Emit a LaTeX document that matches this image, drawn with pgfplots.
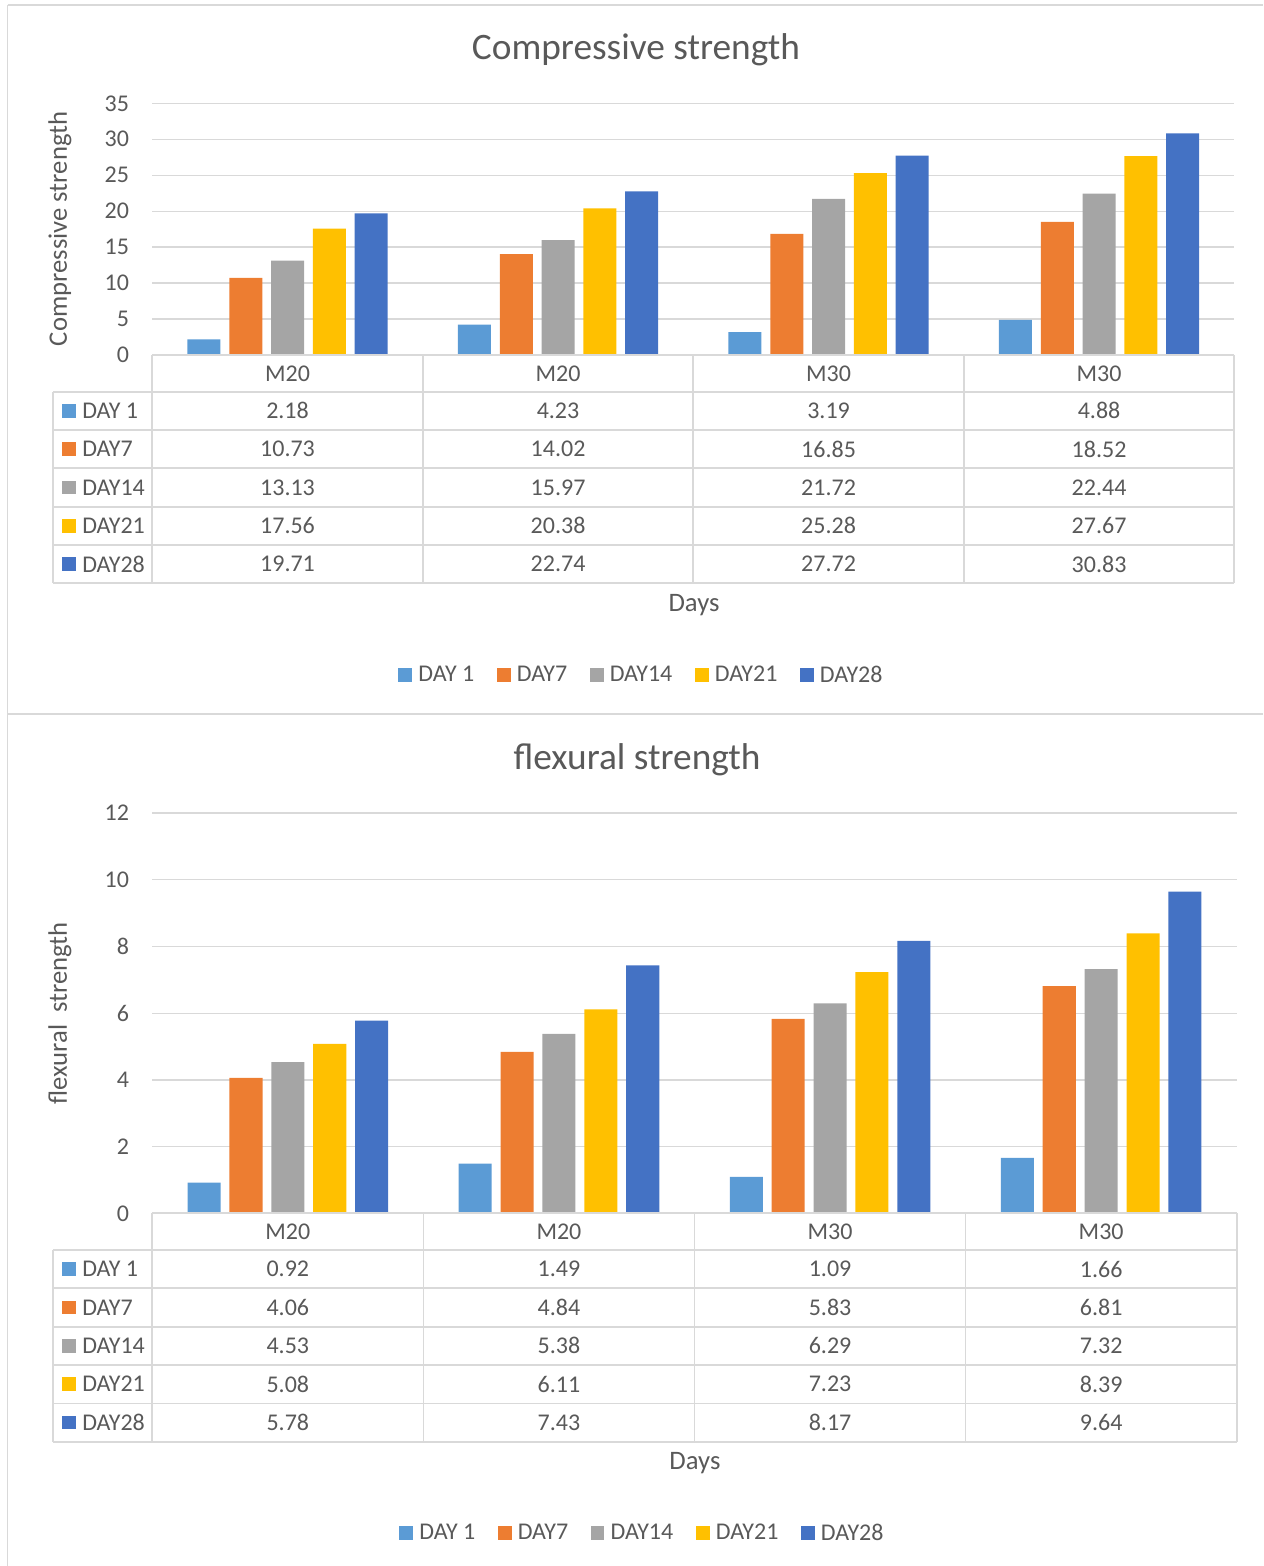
\documentclass[border=0pt]{standalone}
\usepackage{pgfplots}
\usepackage{pgfplotstable}
\pgfplotsset{compat=1.18}
\usepackage{fontspec}
\setmainfont{Carlito}
\definecolor{cA}{HTML}{5B9BD5}
\definecolor{cB}{HTML}{ED7D31}
\definecolor{cC}{HTML}{A5A5A5}
\definecolor{cD}{HTML}{FFC000}
\definecolor{cE}{HTML}{4472C4}
\definecolor{txt}{HTML}{595959}
\definecolor{gridc}{HTML}{D9D9D9}

\pgfplotstableread{
x d1 d7 d14 d21 d28
0 2.18 10.73 13.13 17.56 19.71
1 4.23 14.02 15.97 20.38 22.74
2 3.19 16.85 21.72 25.28 27.72
3 4.88 18.52 22.44 27.67 30.83
}\comp

\pgfplotstableread{
x d1 d7 d14 d21 d28
0 0.92 4.06 4.53 5.08 5.78
1 1.49 4.84 5.38 6.11 7.43
2 1.09 5.83 6.29 7.23 8.17
3 1.66 6.81 7.32 8.39 9.64
}\flex

\pgfplotsset{
  bchart/.style={
    scale only axis, xmin=-0.5, xmax=3.5, ymin=0,
    xtick={0,1,2,3}, xticklabels={M20,M20,M30,M30},
    major tick length=0pt, axis line style={draw=none},
    ymajorgrids, grid style={draw=gridc, line width=1pt},
    tick label style={font=\fontsize{18}{21}\selectfont, text=txt},
    /pgf/number format/assume math mode=true,
    xticklabel style={anchor=center, yshift=-13.9pt},
    yticklabel style={anchor=east, inner sep=0pt, xshift=-17.25pt},
    title style={font=\fontsize{28}{33}\selectfont, text=txt, anchor=center},
    label style={font=\fontsize{20}{24}\selectfont, text=txt},
    legend columns=5,
    legend style={draw=none, fill=none, anchor=center,
      font=\fontsize{18}{21}\selectfont, text=txt, inner sep=0pt,
      nodes={inner sep=0pt},
      /tikz/every odd column/.append style={column sep=4.7pt},
      /tikz/every even column/.append style={column sep=16.9pt}},
  },
}
\newcommand\bars[1]{%
  \addplot[ybar, bar width=0.122, bar shift=-0.309, fill=cA, draw=none,
    legend image code/.code={\fill[cA] (0pt,-5.15pt) rectangle (10.3pt,5.15pt);}] table[x=x,y=d1]{#1};
  \addplot[ybar, bar width=0.122, bar shift=-0.1545, fill=cB, draw=none,
    legend image code/.code={\fill[cB] (0pt,-5.15pt) rectangle (10.3pt,5.15pt);}] table[x=x,y=d7]{#1};
  \addplot[ybar, bar width=0.122, bar shift=0, fill=cC, draw=none,
    legend image code/.code={\fill[cC] (0pt,-5.15pt) rectangle (10.3pt,5.15pt);}] table[x=x,y=d14]{#1};
  \addplot[ybar, bar width=0.122, bar shift=0.1545, fill=cD, draw=none,
    legend image code/.code={\fill[cD] (0pt,-5.15pt) rectangle (10.3pt,5.15pt);}] table[x=x,y=d21]{#1};
  \addplot[ybar, bar width=0.122, bar shift=0.309, fill=cE, draw=none,
    legend image code/.code={\fill[cE] (0pt,-5.15pt) rectangle (10.3pt,5.15pt);}] table[x=x,y=d28]{#1};
  \legend{DAY 1,DAY7,DAY14,DAY21,DAY28}
}

\begin{document}
\begin{tikzpicture}
\path[use as bounding box] (0pt,0pt) rectangle (947.25pt,-1174.5pt);
\begin{scope}[x=0.75pt,y=-0.75pt]
  \draw[gridc, line width=1.3pt] (7.5,4.7) -- (1263,4.7);
  \draw[gridc, line width=1.3pt] (7.5,4.7) -- (7.5,1566);
  \draw[gridc, line width=1.3pt] (7.5,714) -- (1263,714);
\end{scope}

\begin{axis}[bchart,
  at={(114.225pt,-266.25pt)}, anchor=south west,
  width=811.5pt, height=188.775pt,
  ymax=35, ytick={0,5,...,35},
  title={Compressive strength},
  title style={at={(axis description cs:0.447,1.18)}},
  xlabel={Days},
  xlabel style={at={(axis description cs:0.5007,-0.9933)}, anchor=center},
  ylabel={Compressive strength},
  ylabel style={at={(axis description cs:-0.0853,0.5006)}, anchor=center},
  legend style={at={(axis description cs:0.4512,-1.2714)}},
]
\bars{\comp}
\end{axis}

\begin{axis}[bchart,
  at={(114.225pt,-909.975pt)}, anchor=south west,
  width=813.3pt, height=300.225pt,
  ymax=12, ytick={0,2,...,12},
  title={flexural strength},
  title style={at={(axis description cs:0.447,1.1124)}},
  xlabel={Days},
  xlabel style={at={(axis description cs:0.5004,-0.6238)}, anchor=center},
  ylabel={flexural\ \ strength},
  ylabel style={at={(axis description cs:-0.0851,0.4991)}, anchor=center},
  legend style={at={(axis description cs:0.4511,-0.7987)}},
]
\bars{\flex}
\end{axis}

\begin{scope}[x=0.75pt,y=-0.75pt,
  tbl/.style={draw=gridc, line width=1.3pt},
  cell/.style={font=\fontsize{18}{21}\selectfont, text=txt, inner sep=0pt}]
  % ---- top table
  \draw[tbl] (152.3,355) -- (1234.3,355);
  \foreach \i in {0,...,5} \draw[tbl] (53.3,{391.7+38.32*\i}) -- (1234.3,{391.7+38.32*\i});
  \foreach \j in {0,...,4} \draw[tbl] ({152.3+270.5*\j},355) -- ({152.3+270.5*\j},583.3);
  \draw[tbl] (53.3,391.7) -- (53.3,583.3);
  \foreach \col/\nm/\cc [count=\ci from 0] in {d1/DAY 1/cA,d7/DAY7/cB,d14/DAY14/cC,d21/DAY21/cD,d28/DAY28/cE} {
    \fill[\cc] (62.3,{391.7+38.32*(\ci+0.5)-6.85}) rectangle (76,{391.7+38.32*(\ci+0.5)+6.85});
    \node[cell, anchor=west] at (82,{391.7+38.32*(\ci+0.5)}) {\nm};
    \foreach \r in {0,...,3} {
      \node[cell] at ({152.3+270.5*(\r+0.5)},{391.7+38.32*(\ci+0.5)}) {\pgfplotstablegetelem{\r}{\col}\of\comp\pgfplotsretval};
    }
  }
  % ---- bottom table
  \draw[tbl] (152.3,1213.3) -- (1236.7,1213.3);
  \foreach \i in {0,...,5} \draw[tbl] (53.3,{1250+38.34*\i}) -- (1236.7,{1250+38.34*\i});
  \foreach \j in {0,...,4} \draw[tbl] ({152.3+271.1*\j},1213.3) -- ({152.3+271.1*\j},1441.7);
  \draw[tbl] (53.3,1250) -- (53.3,1441.7);
  \foreach \col/\nm/\cc [count=\ci from 0] in {d1/DAY 1/cA,d7/DAY7/cB,d14/DAY14/cC,d21/DAY21/cD,d28/DAY28/cE} {
    \fill[\cc] (62.3,{1250+38.34*(\ci+0.5)-6.85}) rectangle (76,{1250+38.34*(\ci+0.5)+6.85});
    \node[cell, anchor=west] at (82,{1250+38.34*(\ci+0.5)}) {\nm};
    \foreach \r in {0,...,3} {
      \node[cell] at ({152.3+271.1*(\r+0.5)},{1250+38.34*(\ci+0.5)}) {\pgfplotstablegetelem{\r}{\col}\of\flex\pgfplotsretval};
    }
  }
\end{scope}
\end{tikzpicture}
\end{document}
